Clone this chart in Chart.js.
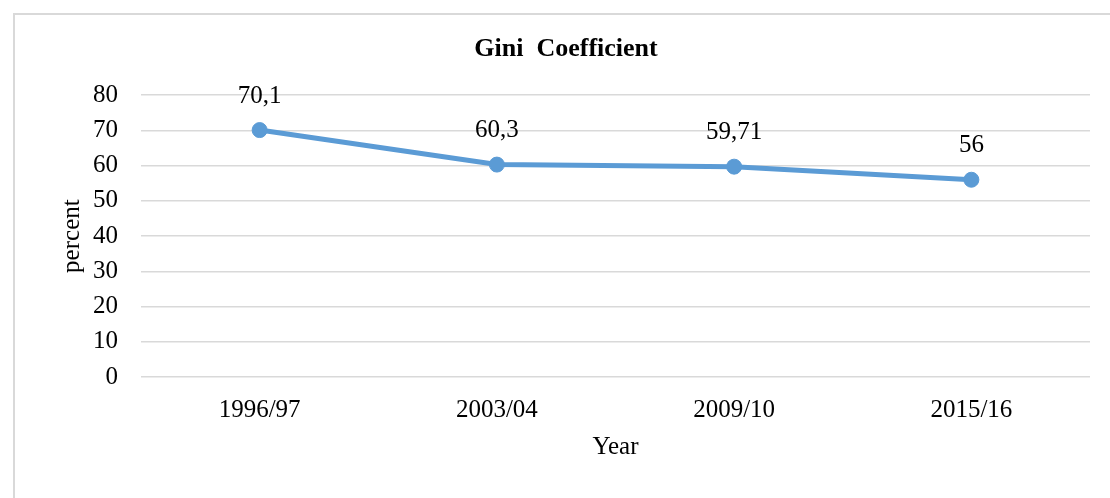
<!DOCTYPE html>
<html>
<head>
<meta charset="utf-8">
<script src="https://cdn.jsdelivr.net/npm/chart.js@4.4.0/dist/chart.umd.min.js"></script>
<style>
  html, body { margin: 0; padding: 0; background: #fff; overflow: hidden; }
  #wrap { position: relative; width: 1110px; height: 498px; }
  #frame { position: absolute; left: 13px; top: 13px; width: 1200px; height: 600px; border: 2px solid #d9d9d9; }
  #giniChart { position: absolute; left: 0; top: 0; }
</style>
</head>
<body>
<div id="wrap">
  <div id="frame"></div>
  <canvas id="giniChart" width="1110" height="498"></canvas>
</div>
<script>
// chart data
const years = ['1996/97', '2003/04', '2009/10', '2015/16'];
const giniValues = [70.1, 60.3, 59.71, 56];
const yTicks = [0, 10, 20, 30, 40, 50, 60, 70, 80];

const serif = '"Liberation Serif", "Times New Roman", serif';

// draws the value above each point, with a decimal comma like the original
const valueLabels = {
    id: 'valueLabels',
    afterDatasetsDraw(chart) {
        const ctx = chart.ctx;
        const meta = chart.getDatasetMeta(0);
        ctx.save();
        ctx.font = '25px ' + serif;
        ctx.fillStyle = '#000';
        ctx.textAlign = 'center';
        ctx.textBaseline = 'middle';
        meta.data.forEach(function(pt, i) {
            const txt = String(giniValues[i]).replace('.', ',');
            ctx.fillText(txt, pt.x, pt.y - 34);
        });
        ctx.restore();
    }
};

const ctx = document.getElementById('giniChart').getContext('2d');
new Chart(ctx, {
    type: 'line',
    data: {
        labels: years,
        datasets: [{
            data: giniValues,
            borderColor: '#5b9bd5',
            backgroundColor: '#5b9bd5',
            borderWidth: 5,
            pointRadius: 7.5,
            pointBorderWidth: 1,
            pointBackgroundColor: '#5b9bd5',
            tension: 0
        }]
    },
    options: {
        responsive: false,
        animation: false,
        layout: { padding: { top: 0, left: 42, right: 20, bottom: 0 } },
        plugins: {
            legend: { display: false },
            tooltip: { enabled: false },
            title: {
                display: true,
                text: 'Gini  Coefficient',
                color: '#000',
                font: { family: serif, size: 26, weight: 'bold', lineHeight: 1.2 },
                padding: { top: 34, bottom: 30 }
            }
        },
        scales: {
            x: {
                offset: true,
                grid: { display: false },
                border: { display: false },
                ticks: { color: '#000', padding: 10, font: { family: serif, size: 25 } },
                title: {
                    display: true,
                    text: 'Year',
                    color: '#000',
                    font: { family: serif, size: 25 },
                    padding: { top: 0, bottom: 36 }
                },
                afterFit(scale) { scale.height = 121; }
            },
            y: {
                min: 0,
                max: 80,
                afterBuildTicks(scale) { scale.ticks = yTicks.map(v => ({ value: v })); },
                grid: { color: '#d9d9d9', lineWidth: 1.5, drawTicks: false },
                border: { display: false },
                ticks: { color: '#000', padding: 23, font: { family: serif, size: 25 } },
                title: {
                    display: true,
                    text: 'percent',
                    color: '#000',
                    font: { family: serif, size: 25 },
                    padding: { top: 15, bottom: 0 }
                },
                afterFit(scale) { scale.width = 99; }
            }
        }
    },
    plugins: [valueLabels]
});
</script>
</body>
</html>
